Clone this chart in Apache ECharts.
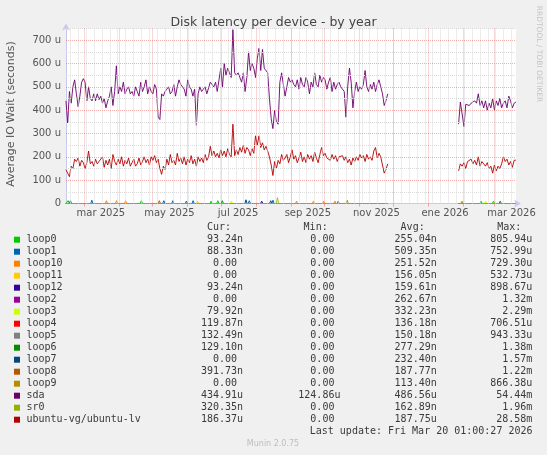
<!DOCTYPE html>
<html>
<head>
<meta charset="utf-8">
<script src="https://cdn.jsdelivr.net/npm/echarts@6/dist/echarts.min.js"></script>
<style>
html, body { margin: 0; padding: 0; background: #f0f0f0; }
#chart { width: 547px; height: 455px; }
</style>
</head>
<body>
<div id="chart"></div>
<script>
// segments with data (the rrd has no values between them)
const seg1 = ['2025-02-13', '2025-11-26'];
const seg2 = ['2026-01-28', '2026-03-20'];

// sda, first segment (evenly spaced over seg1)
const sdaSeg1 = [
  440,345,480,430,500,530,470,415,460,520,
  535,520,440,500,450,440,470,440,470,445,
  460,430,450,410,440,460,500,420,480,590,
  470,500,480,520,470,490,500,470,480,460,
  500,480,460,520,480,500,530,470,500,480,
  470,510,490,370,360,470,460,480,490,500,
  470,480,510,460,500,530,510,500,490,460,
  530,500,490,460,490,335,470,500,480,490,
  500,470,470,520,520,500,520,480,530,580,
  500,600,550,580,560,540,745,560,550,560,
  540,520,560,480,540,650,570,600,580,540,
  620,665,570,660,580,570,560,450,364,321,
  400,350,340,520,560,510,460,500,540,520,
  530,510,500,530,490,540,510,500,540,520,
  470,520,500,560,510,500,550,520,540,530,
  490,520,540,480,520,490,510,520,500,490,
  480,370,500,580,520,410,480,520,480,500,
  490,510,570,500,480,510,490,520,480,510,
  530,500,470,420,440,470
];
const sdaSeg2 = [
  340,435,435,330,425,430,420,430,435,440,
  430,470,420,440,410,440,400,430,410,450,
  400,440,420,450,410,430,440,410,460,440,
  410,430,435
];

// ubuntu-vg/ubuntu-lv
const lvSeg1 = [
  145,130,115,160,150,190,180,195,160,185,
  175,150,175,225,170,180,160,190,170,180,
  175,200,155,185,165,190,150,210,180,165,
  190,170,200,160,185,170,195,160,175,190,
  160,170,195,165,180,200,175,190,165,200,
  185,205,175,190,150,125,160,145,190,165,
  210,175,185,165,215,180,195,170,200,165,
  190,175,205,170,190,160,200,180,195,175,
  210,185,200,245,205,225,200,215,195,230,
  205,225,200,235,210,200,340,205,230,210,
  240,220,250,215,240,230,205,235,215,290,
  250,290,240,260,230,245,225,200,165,120,
  180,150,185,170,210,185,195,210,175,200,
  230,190,205,175,195,220,180,200,175,210,
  190,205,180,220,195,175,210,240,205,215,
  195,200,185,210,190,205,180,200,195,205,
  185,200,175,190,165,195,180,200,185,210,
  195,205,180,210,190,200,185,225,240,195,
  215,200,165,130,145,170
];
const lvSeg2 = [
  140,170,160,175,150,180,175,190,170,185,
  165,200,160,180,170,160,175,150,160,130,
  165,140,160,150,170,200,180,190,165,180,
  155,185,186
];

// small blips of the loop devices and sr0 (date, value in u)
const loop0Spikes = [['2025-02-15', 12], ['2025-04-21', 12], ['2025-06-22', 10], ['2025-06-28', 12], ['2026-02-17', 10], ['2026-02-28', 10]];
const loop1Spikes = [['2025-02-17', 12], ['2025-03-08', 14], ['2025-05-11', 12], ['2025-05-19', 12], ['2025-05-31', 10], ['2025-06-06', 12], ['2025-07-26', 12], ['2025-08-16', 14]];
const loop10Spikes = [['2025-03-21', 12], ['2025-03-30', 12], ['2025-04-07', 12], ['2025-09-06', 10], ['2025-09-21', 10], ['2025-09-30', 10], ['2025-10-10', 10]];
const loop11Spikes = [['2025-06-10', 10]];
const loop12Spikes = [['2025-08-06', 10]];
const loop2Spikes = [];
const loop3Spikes = [['2025-07-10', 10], ['2026-02-21', 10]];
const loop4Spikes = [];
const loop5Spikes = [];
const loop6Spikes = [['2025-07-02', 12], ['2026-03-06', 10]];
const loop7Spikes = [['2025-07-23', 16], ['2025-08-14', 12]];
const loop8Spikes = [['2025-05-07', 12], ['2025-10-13', 10]];
const loop9Spikes = [['2025-10-21', 14], ['2026-01-31', 10]];
const sr0Spikes = [['2025-08-20', 25]];

// legend table
const names = ['loop0','loop1','loop10','loop11','loop12','loop2','loop3','loop4','loop5','loop6','loop7','loop8','loop9','sda','sr0','ubuntu-vg/ubuntu-lv'];
const colors = ['#00CC00','#0066B3','#FF8000','#FFCC00','#330099','#990099','#CCFF00','#FF0000','#808080','#008F00','#00487D','#B35A00','#B38F00','#6B006B','#8FB300','#B30000'];
const curValues = ['93.24n','88.33n','0.00','0.00','93.24n','0.00','79.92n','119.87n','132.49n','129.10n','0.00','391.73n','0.00','434.91u','320.35n','186.37u'];
const minValues = ['0.00','0.00','0.00','0.00','0.00','0.00','0.00','0.00','0.00','0.00','0.00','0.00','0.00','124.86u','0.00','0.00'];
const avgValues = ['255.04n','509.35n','251.52n','156.05n','159.61n','262.67n','332.23n','136.18n','150.18n','277.29n','232.40n','187.77n','113.40n','486.56u','162.89n','187.75u'];
const maxValues = ['805.94u','752.99u','729.30u','532.73u','898.67u','1.32m','2.29m','706.51u','943.33u','1.38m','1.57m','1.22m','866.38u','54.44m','1.96m','28.58m'];
const lastUpdate = 'Last update: Fri Mar 20 01:00:27 2026';

// axis labels
const xLabelDates = ['2025-03-16','2025-05-16','2025-07-16','2025-09-16','2025-11-16','2026-01-16','2026-03-16'];
const xLabels = ['mar 2025','may 2025','jul 2025','sep 2025','nov 2025','ene 2026','mar 2026'];
const yTicks = [0,100,200,300,400,500,600,700];

const DAY = 86400000;
function day(s) {
  const p = s.split('-').map(Number);
  return new Date(p[0], p[1] - 1, p[2]).getTime();
}
const xMax = new Date(2026, 2, 20, 1, 0).getTime();
const xMin = xMax - 400 * DAY;

function segPoints(seg, values) {
  const t0 = day(seg[0]), t1 = day(seg[1]);
  const step = (t1 - t0) / (values.length - 1);
  return values.map((v, i) => [t0 + i * step, v]);
}
function twoSegments(a, b) {
  return segPoints(seg1, a).concat([[day(seg1[1]) + DAY, '-']], segPoints(seg2, b));
}
function spikeSeries(spikes) {
  const pts = [];
  [seg1, seg2].forEach(seg => {
    const ts = day(seg[0]), te = day(seg[1]);
    pts.push([ts, 0]);
    spikes.forEach(([d, v]) => {
      const t = day(d);
      if (t > ts && t < te) pts.push([t - DAY, 0], [t, v], [t + DAY, 0]);
    });
    pts.push([te, 0]);
    pts.push([te + DAY, '-']);
  });
  return pts;
}

const spikeLists = [loop0Spikes, loop1Spikes, loop10Spikes, loop11Spikes, loop12Spikes, loop2Spikes, loop3Spikes,
  loop4Spikes, loop5Spikes, loop6Spikes, loop7Spikes, loop8Spikes, loop9Spikes];

// grid lines (months red dashed, mondays gray dotted)
const monthStarts = [];
for (let i = 0; i < 13; i++) monthStarts.push(new Date(2025, 2 + i, 1).getTime());
const mondays = [];
for (let t = new Date(2025, 1, 17).getTime(); t < xMax; t += 7 * DAY) mondays.push(t);

const majorStyle = { color: 'rgba(235,110,110,0.55)', width: 1, type: [1, 1] };
const minorStyle = { color: '#dadada', width: 1, type: [1, 1] };
const gridLines = []
  .concat(mondays.map(t => ({ xAxis: t, lineStyle: minorStyle })))
  .concat([50,150,250,350,450,550,650,750].map(v => ({ yAxis: v, lineStyle: minorStyle })))
  .concat(monthStarts.map(t => ({ xAxis: t, lineStyle: majorStyle })))
  .concat(yTicks.slice(1).map(v => ({ yAxis: v, lineStyle: majorStyle })));

const series = [{
  type: 'line', z: 1, silent: true, data: [[xMin, '-']],
  markLine: { silent: true, symbol: ['none', 'none'], label: { show: false }, animation: false, data: gridLines }
}];
spikeLists.forEach((sp, i) => {
  series.push({ name: names[i], type: 'line', showSymbol: false, data: spikeSeries(sp),
    lineStyle: { color: colors[i], width: 1 }, itemStyle: { color: colors[i] } });
});
series.push({ name: 'sda', type: 'line', showSymbol: false, data: twoSegments(sdaSeg1, sdaSeg2),
  lineStyle: { color: colors[13], width: 1, opacity: 0.9 }, itemStyle: { color: colors[13] } });
series.push({ name: 'sr0', type: 'line', showSymbol: false, data: spikeSeries(sr0Spikes),
  lineStyle: { color: colors[14], width: 1, opacity: 0.8 }, itemStyle: { color: colors[14] } });
series.push({ name: 'ubuntu-vg/ubuntu-lv', type: 'line', showSymbol: false, data: twoSegments(lvSeg1, lvSeg2),
  lineStyle: { color: colors[15], width: 1, opacity: 0.9 }, itemStyle: { color: colors[15] } });

// legend as text
const mono = '10px "DejaVu Sans Mono"';
const textColor = '#3a3a3a';
function cell(v) {
  const s = /[a-z]$/.test(v) ? v : v + ' ';
  return s.padStart(7, ' ');
}
const graphics = [];
const colX = [201, 298.3, 394.6, 490.2];
const headX = [207, 303.6, 400.6, 497.2];
['Cur:', 'Min:', 'Avg:', 'Max:'].forEach((h, i) => {
  graphics.push({ type: 'text', x: headX[i], y: 227.7, style: { text: h, font: mono, fill: textColor, align: 'left', verticalAlign: 'middle' } });
});
names.forEach((n, i) => {
  const y = 239.7 + i * 12;
  graphics.push({ type: 'rect', shape: { x: 14, y: y - 3, width: 6, height: 6 }, style: { fill: colors[i] } });
  graphics.push({ type: 'text', x: 26.5, y: y, style: { text: n, font: mono, fill: textColor, align: 'left', verticalAlign: 'middle' } });
  [curValues, minValues, avgValues, maxValues].forEach((col, j) => {
    graphics.push({ type: 'text', x: colX[j], y: y, style: { text: cell(col[i]), font: mono, fill: textColor, align: 'left', verticalAlign: 'middle' } });
  });
});
graphics.push({ type: 'text', x: 532.5, y: 431.3, style: { text: lastUpdate, font: mono, fill: textColor, align: 'right', verticalAlign: 'middle' } });
graphics.push({ type: 'text', x: 273, y: 444.3, style: { text: 'Munin 2.0.75', font: '8px "DejaVu Sans"', fill: '#bdbdbd', align: 'center', verticalAlign: 'middle' } });
graphics.push({ type: 'text', x: 11, y: 114, rotation: Math.PI / 2, style: { text: 'Average IO Wait (seconds)', font: '11px "DejaVu Sans"', fill: '#555', align: 'center', verticalAlign: 'middle' } });
graphics.push({ type: 'text', x: 538.5, y: 54, rotation: -Math.PI / 2, style: { text: 'RRDTOOL / TOBI OETIKER', font: '7.5px "DejaVu Sans"', fill: '#c4c4c4', align: 'center', verticalAlign: 'middle' } });

const chart = echarts.init(document.getElementById('chart'));
const option = {
  animation: false,
  backgroundColor: '#f0f0f0',
  title: {
    text: 'Disk latency per device - by year',
    left: 'center', top: 11,
    textStyle: { fontFamily: 'DejaVu Sans', fontSize: 12.5, fontWeight: 'normal', color: '#444' }
  },
  grid: { left: 66, top: 28.5, width: 450, height: 175, show: true, backgroundColor: '#ffffff', borderWidth: 0 },
  xAxis: {
    type: 'value', min: xMin, max: xMax,
    axisLine: { show: true, lineStyle: { color: '#c8c8f0', width: 1 }, symbol: ['none', 'arrow'], symbolSize: [6, 7], symbolOffset: [0, 5] },
    axisTick: { show: true, customValues: monthStarts, length: 3, lineStyle: { color: '#f2a2a2' } },
    axisLabel: {
      customValues: xLabelDates.map(day),
      formatter: v => {
        let best = 0;
        xLabelDates.forEach((d, i) => { if (Math.abs(day(d) - v) < Math.abs(day(xLabelDates[best]) - v)) best = i; });
        return xLabels[best];
      },
      fontFamily: 'DejaVu Sans', fontSize: 10, color: '#555', margin: 5
    },
    splitLine: { show: false }
  },
  yAxis: {
    type: 'value', min: 0, max: 750, interval: 100,
    axisLine: { show: true, lineStyle: { color: '#c8c8f0', width: 1 }, symbol: ['none', 'arrow'], symbolSize: [6, 7], symbolOffset: [0, 5] },
    axisTick: { show: false },
    axisLabel: {
      customValues: yTicks,
      formatter: v => (v === 0 ? '0' : v + ' u'),
      fontFamily: 'DejaVu Sans', fontSize: 10, color: '#555', margin: 5
    },
    splitLine: { show: false }
  },
  series: series,
  graphic: graphics
};
chart.setOption(option);
</script>
</body>
</html>
